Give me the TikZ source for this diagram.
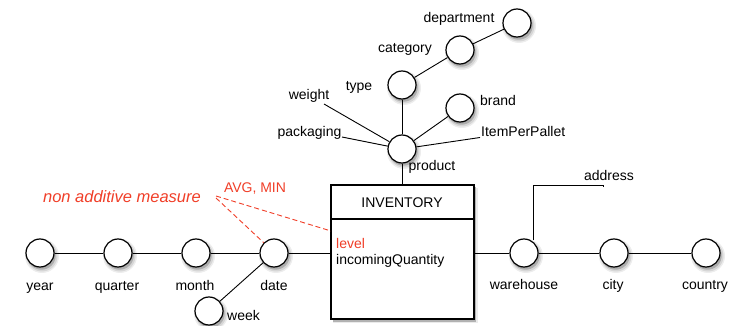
\documentclass[tikz,border=0pt]{standalone}
\usepackage{fontspec}
\setmainfont{Liberation Sans}
\definecolor{note}{RGB}{240,62,40}
% a round attribute with a soft shadow below right
\newcommand\attrnode[2]{%
  \fill[black!7] (#2) ++(2,3) circle (17);
  \fill[black!16] (#2) ++(2,3) circle (15.5);
  \fill[black!32] (#2) ++(1.5,2.5) circle (14.2);
  \node[attr] (#1) at (#2) {};}
\begin{document}
\begin{tikzpicture}[x=1pt,y=-1pt,
  attr/.style={circle, draw, line width=1.2pt, fill=white, minimum size=28pt, inner sep=0pt},
  lbl/.style={font=\fontsize{14}{16}\selectfont, inner sep=0pt, anchor=base},
  link/.style={line width=0.9pt},
  notelink/.style={note, line width=0.9pt, dash pattern=on 5pt off 3pt}]
\useasboundingbox (0,0) rectangle (731,326);

% fact box with its shadow
\fill[black!8] (333,188) rectangle (478,323);
\fill[black!30] (332.5,187) rectangle (476,321.5);
\node[draw, line width=1.2pt, fill=white, minimum width=143pt, minimum height=134pt, inner sep=0pt]
  (inv) at (402.5,252) {};
\draw[line width=1.2pt] (331,219) -- (474,219);
\node[lbl, anchor=base] (invt) at (402,207) {INVENTORY};
\node[lbl, anchor=base west, text=note] (lvl) at (336,248) {level};
\node[lbl, anchor=base west] (inq) at (336,264) {incomingQuantity};

% time dimension
\attrnode{year}{40,253}
\attrnode{quarter}{118,253}
\attrnode{month}{196,253}
\attrnode{date}{274,253}
\attrnode{week}{209,311}
\node[lbl] at (40,290) {year};
\node[lbl] at (117,290) {quarter};
\node[lbl] at (195,290) {month};
\node[lbl] at (274,290) {date};
\node[lbl, anchor=base west] at (227,320) {week};

% location dimension
\attrnode{wh}{524,253}
\attrnode{city}{614,253}
\attrnode{country}{706,253}
\node[lbl] at (524,289) {warehouse};
\node[lbl] at (613,289) {city};
\node[lbl] at (705,289) {country};
\node[lbl] (addr) at (609,180) {address};
\coordinate (addrend) at (603,185);

% product dimension
\attrnode{product}{402,149}
\attrnode{type}{402,85}
\attrnode{category}{460,50}
\attrnode{dept}{517,23}
\attrnode{brand}{460,108}
\node[lbl] at (432,171) {product};
\node[lbl] at (359,91) {type};
\node[lbl] at (405,53) {category};
\node[lbl] at (459,23) {department};
\node[lbl] at (498,106) {brand};
\node[lbl] at (309,100) {weight};
\node[lbl] at (309.5,137) {packaging};
\node[lbl, anchor=base west] at (481,137) {ItemPerPallet};
\coordinate (wgt) at (324,104);
\coordinate (pkg) at (342,137);
\coordinate (ipp) at (480,137.5);

% connectors
\draw[link] (year) -- (quarter);
\draw[link] (quarter) -- (month);
\draw[link] (month) -- (date);
\draw[link] (date) -- (week);
\draw[link] (date) -- (date -| inv.west);
\draw[link] (inv.east |- wh) -- (wh);
\draw[link] (wh) -- (city);
\draw[link] (city) -- (country);
\draw[link] (wh.north -| 533,0) ++(0,2) |- (addrend) -- ++(0,2);
\draw[link] (product) -- (inv.north -| product);
\draw[link] (product) -- (type);
\draw[link] (type) -- (category);
\draw[link] (category) -- (dept);
\draw[link] (product) -- (brand);
\draw[link] (wgt) -- (product);
\draw[link] (pkg) -- (product);
\draw[link] (ipp) -- (product);

% annotation
\node[lbl, text=note, font=\fontsize{16.5}{18}\selectfont\itshape] (nam) at (122,202) {non additive measure};
\node[lbl, text=note] (avg) at (255,192) {AVG, MIN};
\coordinate (nx) at (216,196);
\draw[notelink] (nx) -- (331,231);
\draw[notelink] (216,198) -- (date.north west);
\end{tikzpicture}
\end{document}
